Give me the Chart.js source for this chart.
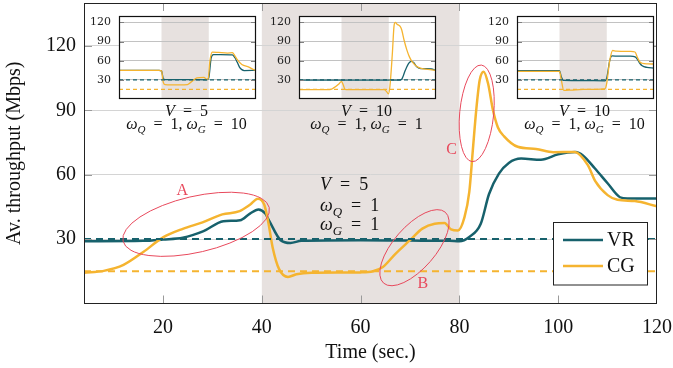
<!DOCTYPE html>
<html>
<head>
<meta charset="utf-8">
<script src="https://cdn.jsdelivr.net/npm/chart.js@4.4.1/dist/chart.umd.min.js"></script>
<style>
  html, body { margin: 0; padding: 0; background: #fff; }
  #wrap { position: relative; width: 673px; height: 368px; }
  #wrap canvas { position: absolute; }
</style>
</head>
<body>
<div id="wrap">
  <canvas id="mainChart" width="673" height="368" style="left:0;top:0"></canvas>
  <canvas id="inset0" width="172" height="87"></canvas>
  <canvas id="inset1" width="172" height="87"></canvas>
  <canvas id="inset2" width="172" height="87"></canvas>
</div>
<script>
// ---- data ----
const timeTicks = [20, 40, 60, 80, 100, 120];
const rateTicks = [30, 60, 90, 120];
const timeRange = [4, 120];
const shadedPeriod = [40, 80];
const vrTarget = 30;
const cgTarget = 15;

// main plot, V = 5, wQ = 1, wG = 1
const vrTime = [4, 16, 20, 24, 28.2, 32.2, 35.6, 37.6, 39.3, 40.7, 41.5, 43.8, 45.8, 48, 60, 70, 78, 80, 82, 84.3, 86, 88, 90, 92.5, 96.5, 100, 103.5, 105, 107.4, 110, 112.5, 114, 120];
const vrRate = [29, 29.2, 29.8, 30.6, 33.7, 38.3, 38.8, 41.9, 43.8, 41.9, 38.5, 29.5, 28.2, 29.2, 29.5, 29.3, 29.2, 29, 31, 37, 51, 60.5, 65.5, 67.5, 67, 69.5, 70.6, 69, 63, 56, 49.5, 48.9, 48.9];
const cgTime = [4, 8, 12, 16, 20, 24, 28, 32, 35.5, 37.6, 39.2, 40.5, 41.3, 42.2, 43.5, 45.3, 47, 50, 60, 62.5, 64.5, 67, 70, 72.5, 75, 77, 78.3, 79.7, 81, 82, 82.7, 83.4, 84.1, 84.9, 85.8, 86.8, 87.8, 89, 91.8, 95.5, 99, 103.3, 106, 107.5, 110, 112, 115.5, 120];
const cgRate = [14.3, 15.2, 18, 24, 30.8, 34.8, 37.8, 41.5, 43, 46, 48.8, 46, 38, 26, 16, 12.4, 13.6, 14.3, 14.5, 15, 17, 23, 29.5, 34.9, 37.2, 37.5, 34.5, 34, 40, 52, 71, 90, 104, 108, 102.5, 90, 82, 78, 73, 72, 70.5, 70.6, 64.5, 57, 50.5, 48.3, 47.7, 45.3];

// inset 1: V = 5, wQ = 1, wG = 10
const inset1VrTime = [4, 38, 40, 41.5, 43, 60, 78, 80, 82, 84, 90, 100, 102, 104, 106, 108, 110, 120];
const inset1VrRate = [44.8, 44.8, 44, 32, 30.5, 30.5, 30, 33, 64, 69.5, 69.5, 69, 65, 58, 50, 46, 44.5, 44.8];
const inset1CgTime = [4, 38, 40, 41.5, 43, 55, 62, 66, 70, 76, 78, 79.5, 81, 83, 88, 96, 100, 102, 104, 108, 114, 118, 120];
const inset1CgRate = [44.8, 44.8, 44, 26, 22.5, 22, 22.5, 28, 33, 34, 31, 32, 60, 73.5, 73, 72, 72.5, 68, 62, 54, 50, 46, 44.8];

// inset 2: V = 10, wQ = 1, wG = 1
const inset2VrTime = [4, 89, 91, 94, 97, 99, 101, 104, 107, 112, 116, 120];
const inset2VrRate = [29.7, 29.7, 31, 45, 56, 59, 57, 50, 47.5, 47.5, 47, 45];
const inset2CgTime = [4, 30, 33, 38, 40, 41.5, 43, 46, 76, 78, 79.7, 81, 83, 84.5, 85.5, 87, 89.5, 91, 93, 95.3, 97.5, 99.6, 103.8, 109.5, 115, 120];
const inset2CgRate = [14.6, 14.6, 17, 24, 27.6, 22, 15, 14.6, 14.6, 12, 8, 20, 70, 115, 120, 117, 114, 108, 92, 77, 66, 59, 51, 47, 46, 44.8];

// inset 3: V = 10, wQ = 1, wG = 10
const inset3VrTime = [4, 40, 41.5, 43.6, 60, 78.4, 80, 82.5, 84.5, 90, 100, 104, 106, 108, 110, 114, 120];
const inset3VrRate = [44.5, 44.3, 35, 29.1, 28.8, 28.5, 33, 60, 67.5, 67, 67, 66, 62, 56, 52, 49.5, 48.5];
const inset3CgTime = [4, 40, 41.5, 43.6, 50, 60, 78.4, 80, 82.5, 85, 88, 100, 103.9, 106, 108, 110, 115, 120];
const inset3CgRate = [43.2, 43.2, 30, 13.5, 14, 15, 16, 25, 60, 76, 75, 74.5, 73.6, 65, 58, 56, 55, 54.8];

// ---- styles / layout ----
const TEAL = '#17616c';
const GOLD = '#f5b430';
const RED = '#e8495c';
const SHADE = '#e7e1df';
const SERIF = '"Liberation Serif", "Times New Roman", serif';

const insetBoxes = [
    { left: 119, top: 16, v: '5', wg: '10' },
    { left: 299, top: 16, v: '10', wg: '1' },
    { left: 517, top: 16, v: '10', wg: '10' }
];
const INSET_W = 137, INSET_H = 83, INSET_LABEL_W = 33;

function points(xs, ys) {
    return xs.map((x, i) => ({ x: x, y: ys[i] }));
}
function flat(v) {
    return [{ x: timeRange[0], y: v }, { x: timeRange[1], y: v }];
}
// stop Chart.js from reserving room for edge tick labels
function noEdgePadding(s) {
    s.paddingTop = 0; s.paddingBottom = 0;
    s.paddingLeft = 0; s.paddingRight = 0;
}

// math text: runs of [text, kind]; kind r = roman, i = italic, s = subscript, o = operator with spacing
function drawMath(ctx, x, y, runs, size, align) {
    const fontFor = k => {
        if (k === 'i') return 'italic ' + size + 'px ' + SERIF;
        if (k === 's') return 'italic ' + Math.round(size * 0.7) + 'px ' + SERIF;
        return size + 'px ' + SERIF;
    };
    const gap = size * 0.5;
    const widthOf = r => {
        ctx.font = fontFor(r[1]);
        return ctx.measureText(r[0]).width + (r[1] === 'o' ? 2 * gap : 0);
    };
    let total = 0;
    runs.forEach(r => { total += widthOf(r); });
    let cx = align === 'center' ? x - total / 2 : x;
    ctx.textAlign = 'left';
    ctx.textBaseline = 'alphabetic';
    runs.forEach(r => {
        const w = widthOf(r);
        ctx.font = fontFor(r[1]);
        const dx = r[1] === 'o' ? gap : 0;
        ctx.fillText(r[0], cx + dx, r[1] === 's' ? y + size * 0.25 : y);
        cx += w;
    });
}

function drawInnerTicks(ctx, area, xScale, yScale, xVals, yVals, len, color) {
    ctx.save();
    ctx.strokeStyle = color;
    ctx.lineWidth = 1;
    ctx.beginPath();
    xVals.forEach(v => {
        const px = Math.round(xScale.getPixelForValue(v)) + 0.5;
        if (px > area.right - 2) return;
        ctx.moveTo(px, area.bottom); ctx.lineTo(px, area.bottom - len);
        ctx.moveTo(px, area.top); ctx.lineTo(px, area.top + len);
    });
    yVals.forEach(v => {
        const py = Math.round(yScale.getPixelForValue(v)) + 0.5;
        ctx.moveTo(area.left, py); ctx.lineTo(area.left + len, py);
        ctx.moveTo(area.right, py); ctx.lineTo(area.right - len, py);
    });
    ctx.stroke();
    ctx.restore();
}

const mainDecor = {
    id: 'mainDecor',
    beforeDraw(chart) {
        const { ctx, chartArea: a, scales: { x } } = chart;
        const x0 = x.getPixelForValue(shadedPeriod[0]);
        const x1 = x.getPixelForValue(shadedPeriod[1]);
        ctx.save();
        ctx.fillStyle = SHADE;
        ctx.fillRect(x0, a.top, x1 - x0, a.bottom - a.top);
        ctx.restore();
    },
    afterDraw(chart) {
        const { ctx, chartArea: a, scales: { x, y } } = chart;
        drawInnerTicks(ctx, a, x, y, timeTicks, rateTicks, 8, '#9a9a9a');

        ctx.save();
        ctx.strokeStyle = '#222';
        ctx.lineWidth = 1;
        ctx.strokeRect(Math.round(a.left) + 0.5, Math.round(a.top) + 0.5,
            Math.round(a.right - a.left) - 1, Math.round(a.bottom - a.top) - 1);

        // highlighted regions A, B, C
        const marks = [
            { t: 26.7, r: 36.9, rx: 75, ry: 28, rot: -13, label: 'A', lt: 23.9, lr: 52.4 },
            { t: 70.9, r: 26, rx: 47, ry: 21, rot: -49, label: 'B', lt: 72.6, lr: 9 },
            { t: 83.5, r: 88.6, rx: 48.5, ry: 17, rot: -84.5, label: 'C', lt: 78.4, lr: 71.7 }
        ];
        ctx.strokeStyle = RED;
        ctx.fillStyle = RED;
        ctx.lineWidth = 1;
        ctx.font = '16px ' + SERIF;
        ctx.textAlign = 'center';
        ctx.textBaseline = 'middle';
        marks.forEach(m => {
            ctx.beginPath();
            ctx.ellipse(x.getPixelForValue(m.t), y.getPixelForValue(m.r), m.rx, m.ry, m.rot * Math.PI / 180, 0, Math.PI * 2);
            ctx.stroke();
            ctx.fillText(m.label, x.getPixelForValue(m.lt), y.getPixelForValue(m.lr));
        });

        // parameter labels
        ctx.fillStyle = '#111';
        drawMath(ctx, 320, 190, [['V', 'i'], ['=', 'o'], ['5', 'r']], 18, 'left');
        drawMath(ctx, 320, 211, [['\u03c9', 'i'], ['Q', 's'], ['=', 'o'], ['1', 'r']], 18, 'left');
        drawMath(ctx, 320, 230, [['\u03c9', 'i'], ['G', 's'], ['=', 'o'], ['1', 'r']], 18, 'left');

        insetBoxes.forEach(b => {
            const cx = b.left + INSET_W / 2 - 1;
            drawMath(ctx, cx, 116, [['V', 'i'], ['=', 'o'], [b.v, 'r']], 16, 'center');
            drawMath(ctx, cx, 129, [['\u03c9', 'i'], ['Q', 's'], ['=', 'o'], ['1, ', 'r'],
                ['\u03c9', 'i'], ['G', 's'], ['=', 'o'], [b.wg, 'r']], 16, 'center');
        });

        // legend
        const lx = 553.5, ly = 222.5, lw = 94, lh = 62.5;
        ctx.fillStyle = '#fff';
        ctx.fillRect(lx, ly, lw, lh);
        ctx.strokeStyle = '#222';
        ctx.strokeRect(lx, ly, lw, lh);
        [['VR', TEAL, 240], ['CG', GOLD, 266]].forEach(item => {
            ctx.strokeStyle = item[1];
            ctx.lineWidth = 2.5;
            ctx.beginPath();
            ctx.moveTo(563, item[2]);
            ctx.lineTo(603, item[2]);
            ctx.stroke();
            ctx.fillStyle = '#111';
            ctx.font = '20px ' + SERIF;
            ctx.textAlign = 'left';
            ctx.textBaseline = 'middle';
            ctx.fillText(item[0], 607, item[2] + 1);
        });
        ctx.restore();
    }
};

const axisFont = { family: SERIF, size: 20 };

new Chart(document.getElementById('mainChart'), {
    type: 'line',
    data: {
        datasets: [
            { label: 'VR target', data: flat(vrTarget), borderColor: TEAL, borderWidth: 2, borderDash: [7, 5], order: 0 },
            { label: 'CG target', data: flat(cgTarget), borderColor: GOLD, borderWidth: 2, borderDash: [7, 5], order: 0 },
            { label: 'CG', data: points(cgTime, cgRate), borderColor: GOLD, borderWidth: 2.5, order: 1 },
            { label: 'VR', data: points(vrTime, vrRate), borderColor: TEAL, borderWidth: 2.5, order: 2 }
        ]
    },
    options: {
        responsive: false,
        animation: false,
        devicePixelRatio: 1,
        elements: {
            point: { radius: 0 },
            line: { cubicInterpolationMode: 'monotone', fill: false }
        },
        layout: { padding: { top: 3, right: 16, left: 0, bottom: 0 } },
        plugins: { legend: { display: false }, tooltip: { enabled: false } },
        scales: {
            x: {
                type: 'linear',
                min: timeRange[0],
                max: timeRange[1],
                afterBuildTicks: s => { s.ticks = timeTicks.map(v => ({ value: v })); },
                afterFit: s => { s.height = 64.5; noEdgePadding(s); },
                grid: { display: false },
                border: { display: false },
                ticks: { color: '#111', font: axisFont, padding: 4, maxRotation: 0, autoSkip: false },
                title: { display: true, text: 'Time (sec.)', color: '#111', font: axisFont, padding: { top: 0, bottom: 3 } }
            },
            y: {
                min: 0,
                max: 140,
                afterBuildTicks: s => { s.ticks = rateTicks.map(v => ({ value: v })); },
                afterFit: s => { s.width = 84; noEdgePadding(s); },
                grid: { color: '#d4d4d4', drawTicks: false },
                border: { display: false },
                ticks: { color: '#111', font: axisFont, padding: 8, autoSkip: false },
                title: { display: true, text: 'Av. throughput (Mbps)', color: '#111', font: axisFont, padding: { top: 3, bottom: 0 } }
            }
        }
    },
    plugins: [mainDecor]
});

// ---- insets ----
const insetDecor = {
    id: 'insetDecor',
    beforeDraw(chart) {
        const { ctx, chartArea: a, scales: { x } } = chart;
        ctx.save();
        ctx.fillStyle = '#fff';
        ctx.fillRect(a.left, a.top, a.right - a.left, a.bottom - a.top);
        const x0 = x.getPixelForValue(shadedPeriod[0]);
        const x1 = x.getPixelForValue(shadedPeriod[1]);
        ctx.fillStyle = SHADE;
        ctx.fillRect(x0, a.top, x1 - x0, a.bottom - a.top);
        ctx.restore();
    },
    afterDraw(chart) {
        const { ctx, chartArea: a, scales: { x, y } } = chart;
        drawInnerTicks(ctx, a, x, y, [], rateTicks, 5, '#808080');
        ctx.save();
        ctx.strokeStyle = '#111';
        ctx.lineWidth = 1.2;
        ctx.strokeRect(Math.round(a.left) + 0.5, Math.round(a.top) + 0.5,
            Math.round(a.right - a.left) - 1, Math.round(a.bottom - a.top) - 1);
        ctx.restore();
    }
};

const insetSeries = [
    [inset1VrTime, inset1VrRate, inset1CgTime, inset1CgRate],
    [inset2VrTime, inset2VrRate, inset2CgTime, inset2CgRate],
    [inset3VrTime, inset3VrRate, inset3CgTime, inset3CgRate]
];

insetSeries.forEach((s, i) => {
    const canvas = document.getElementById('inset' + i);
    canvas.style.left = (insetBoxes[i].left - INSET_LABEL_W) + 'px';
    canvas.style.top = (insetBoxes[i].top - 2) + 'px';
    new Chart(canvas, {
        type: 'line',
        data: {
            datasets: [
                { data: flat(vrTarget), borderColor: TEAL, borderWidth: 1.2, borderDash: [4, 3], order: 0 },
                { data: flat(cgTarget), borderColor: GOLD, borderWidth: 1.2, borderDash: [4, 3], order: 0 },
                { data: points(s[2], s[3]), borderColor: GOLD, borderWidth: 1.3, order: 1 },
                { data: points(s[0], s[1]), borderColor: TEAL, borderWidth: 1.3, order: 2 }
            ]
        },
        options: {
            responsive: false,
            animation: false,
            devicePixelRatio: 1,
            elements: {
                point: { radius: 0 },
                line: { cubicInterpolationMode: 'monotone', fill: false }
            },
            layout: { padding: { top: 2, right: 2, left: 0, bottom: 2 } },
            plugins: { legend: { display: false }, tooltip: { enabled: false } },
            scales: {
                x: { type: 'linear', min: timeRange[0], max: timeRange[1], display: false },
                y: {
                    min: 0,
                    max: 130,
                    afterBuildTicks: sc => { sc.ticks = rateTicks.map(v => ({ value: v })); },
                    afterFit: sc => { sc.width = INSET_LABEL_W; noEdgePadding(sc); },
                    grid: { color: '#c2c2c2', drawTicks: false },
                    border: { display: false },
                    ticks: { color: '#222', font: { family: '"DejaVu Serif", serif', size: 11 }, padding: 8, autoSkip: false }
                }
            }
        },
        plugins: [insetDecor]
    });
});
</script>
</body>
</html>
